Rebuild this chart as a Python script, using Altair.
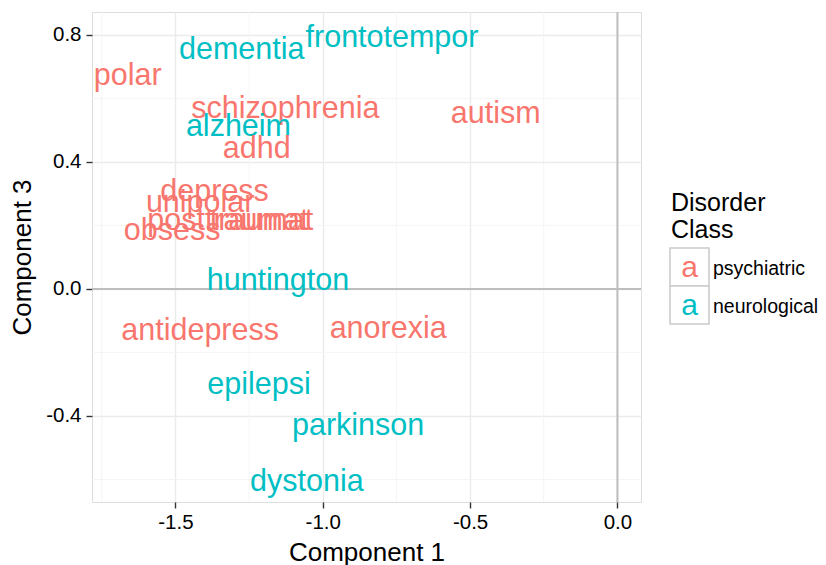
import altair as alt
import pandas as pd

labels = ["frontotempor", "dementia", "polar", "schizophrenia", "autism", "alzheim",
          "adhd", "depress", "unipolar", "posttraumat", "traumat", "obsess",
          "huntington", "antidepress", "anorexia", "epilepsi", "parkinson", "dystonia"]
comp1 = [-0.765, -1.275, -1.662, -1.127, -0.413, -1.286,
         -1.224, -1.367, -1.416, -1.322, -1.208, -1.511,
         -1.152, -1.416, -0.778, -1.216, -0.880, -1.054]
comp3 = [0.791, 0.753, 0.671, 0.567, 0.551, 0.511,
         0.440, 0.304, 0.271, 0.214, 0.214, 0.183,
         0.025, -0.132, -0.126, -0.302, -0.431, -0.608]
classes = ["neurological", "neurological", "psychiatric", "psychiatric", "psychiatric", "neurological",
           "psychiatric", "psychiatric", "psychiatric", "psychiatric", "psychiatric", "psychiatric",
           "neurological", "psychiatric", "psychiatric", "neurological", "neurological", "neurological"]

legend_classes = ["psychiatric", "neurological"]
legend_colors = ["#F8766D", "#00BFC4"]

x_ticks = [-1.5, -1.0, -0.5, 0.0]
y_ticks = [-0.4, 0.0, 0.4, 0.8]
x_minor = [-1.75, -1.25, -0.75, -0.25]
y_minor = [-0.6, -0.2, 0.2, 0.6]
x_domain = [-1.783, 0.080]
y_domain = [-0.671, 0.872]

FONT = "Liberation Sans"

df = pd.DataFrame({"label": labels, "c1": comp1, "c3": comp3, "Class": classes})
xminor_df = pd.DataFrame({"v": x_minor})
yminor_df = pd.DataFrame({"v": y_minor})
zero_df = pd.DataFrame({"v": [0.0]})
legend_df = pd.DataFrame({"Class": legend_classes})

xscale = alt.Scale(domain=x_domain, nice=False, zero=False)
yscale = alt.Scale(domain=y_domain, nice=False, zero=False)
cscale = alt.Scale(domain=legend_classes, range=legend_colors)

lab_expr = "datum.value < 0 ? '-' + format(-datum.value, '.1f') : format(datum.value, '.1f')"

xaxis = alt.Axis(values=x_ticks, labelExpr=lab_expr, title="Component 1", grid=True,
                 gridColor="#EBEBEB", gridWidth=1.4, domain=False, tickColor="#333333",
                 tickWidth=1.4, tickSize=6, labelPadding=4, labelFontSize=20.5, labelColor="#000000",
                 labelFont=FONT, titleFont=FONT, titleFontSize=26, titleFontWeight="normal",
                 titleColor="#000000", titleX=274.5, titleY=58, titleBaseline="alphabetic",
                 titleAlign="center")
yaxis = alt.Axis(values=y_ticks, labelExpr=lab_expr, title="Component 3", grid=True,
                 gridColor="#EBEBEB", gridWidth=1.4, domain=False, tickColor="#333333",
                 tickWidth=1.4, tickSize=6, labelPadding=5, labelFontSize=20.5, labelColor="#000000",
                 labelFont=FONT, titleFont=FONT, titleFontSize=26, titleFontWeight="normal",
                 titleColor="#000000", titleX=-70, titleY=245, titleAngle=270,
                 titleAlign="center", titleBaseline="middle")

base_pts = alt.Chart(df).mark_point(opacity=0).encode(
    x=alt.X("c1:Q", scale=xscale, axis=xaxis),
    y=alt.Y("c3:Q", scale=yscale, axis=yaxis),
)

xminor = alt.Chart(xminor_df).mark_rule(color="#F2F2F2", strokeWidth=0.8).encode(x=alt.X("v:Q"))
yminor = alt.Chart(yminor_df).mark_rule(color="#F2F2F2", strokeWidth=0.8).encode(y=alt.Y("v:Q"))
xzero = alt.Chart(zero_df).mark_rule(color="#BEBEBE", strokeWidth=2).encode(x=alt.X("v:Q"))
yzero = alt.Chart(zero_df).mark_rule(color="#BEBEBE", strokeWidth=2).encode(y=alt.Y("v:Q"))

texts = alt.Chart(df).mark_text(fontSize=30.5, font=FONT, baseline="middle", align="center").encode(
    x=alt.X("c1:Q"),
    y=alt.Y("c3:Q"),
    text="label:N",
    color=alt.Color("Class:N", scale=cscale, legend=None),
)

# manual legend (ggplot style key boxes with "a")
leg_layers = []
title_src = alt.Chart(legend_df).transform_filter(alt.datum.Class == "psychiatric")
leg_layers.append(title_src.mark_text(
    fontSize=25, font=FONT, align="left", baseline="alphabetic", color="#000000").encode(
    x=alt.value(579), y=alt.value(199), text=alt.value("Disorder")))
leg_layers.append(title_src.mark_text(
    fontSize=25, font=FONT, align="left", baseline="alphabetic", color="#000000").encode(
    x=alt.value(579), y=alt.value(226), text=alt.value("Class")))
for i, cls in enumerate(legend_classes):
    sub = alt.Chart(legend_df).transform_filter(alt.datum.Class == cls)
    leg_layers.append(sub.mark_rect(fill="white", stroke="#CCCCCC", strokeWidth=1.6).encode(
        x=alt.value(578), x2=alt.value(617), y=alt.value(236 + 38 * i), y2=alt.value(274 + 38 * i)))
    leg_layers.append(sub.mark_text(fontSize=30, font=FONT, align="center", baseline="middle").encode(
        x=alt.value(597.5), y=alt.value(256 + 38 * i), text=alt.value("a"),
        color=alt.Color("Class:N", scale=cscale, legend=None)))
    leg_layers.append(sub.mark_text(fontSize=19.5, font=FONT, align="left", baseline="alphabetic",
                                    color="#000000").encode(
        x=alt.value(621), y=alt.value(263 + 38 * i), text="Class:N"))

chart = alt.layer(base_pts, xminor, yminor, xzero, yzero, texts, *leg_layers).properties(
    width=549, height=490,
    autosize=alt.AutoSizeParams(type="none"),
    padding={"left": 84, "top": 4, "right": 177, "bottom": 63},
).configure_view(stroke="#8A8A8A", strokeWidth=1.4).configure(background="white")

chart.save("out.html", embed_options={"renderer": "svg", "actions": False})
